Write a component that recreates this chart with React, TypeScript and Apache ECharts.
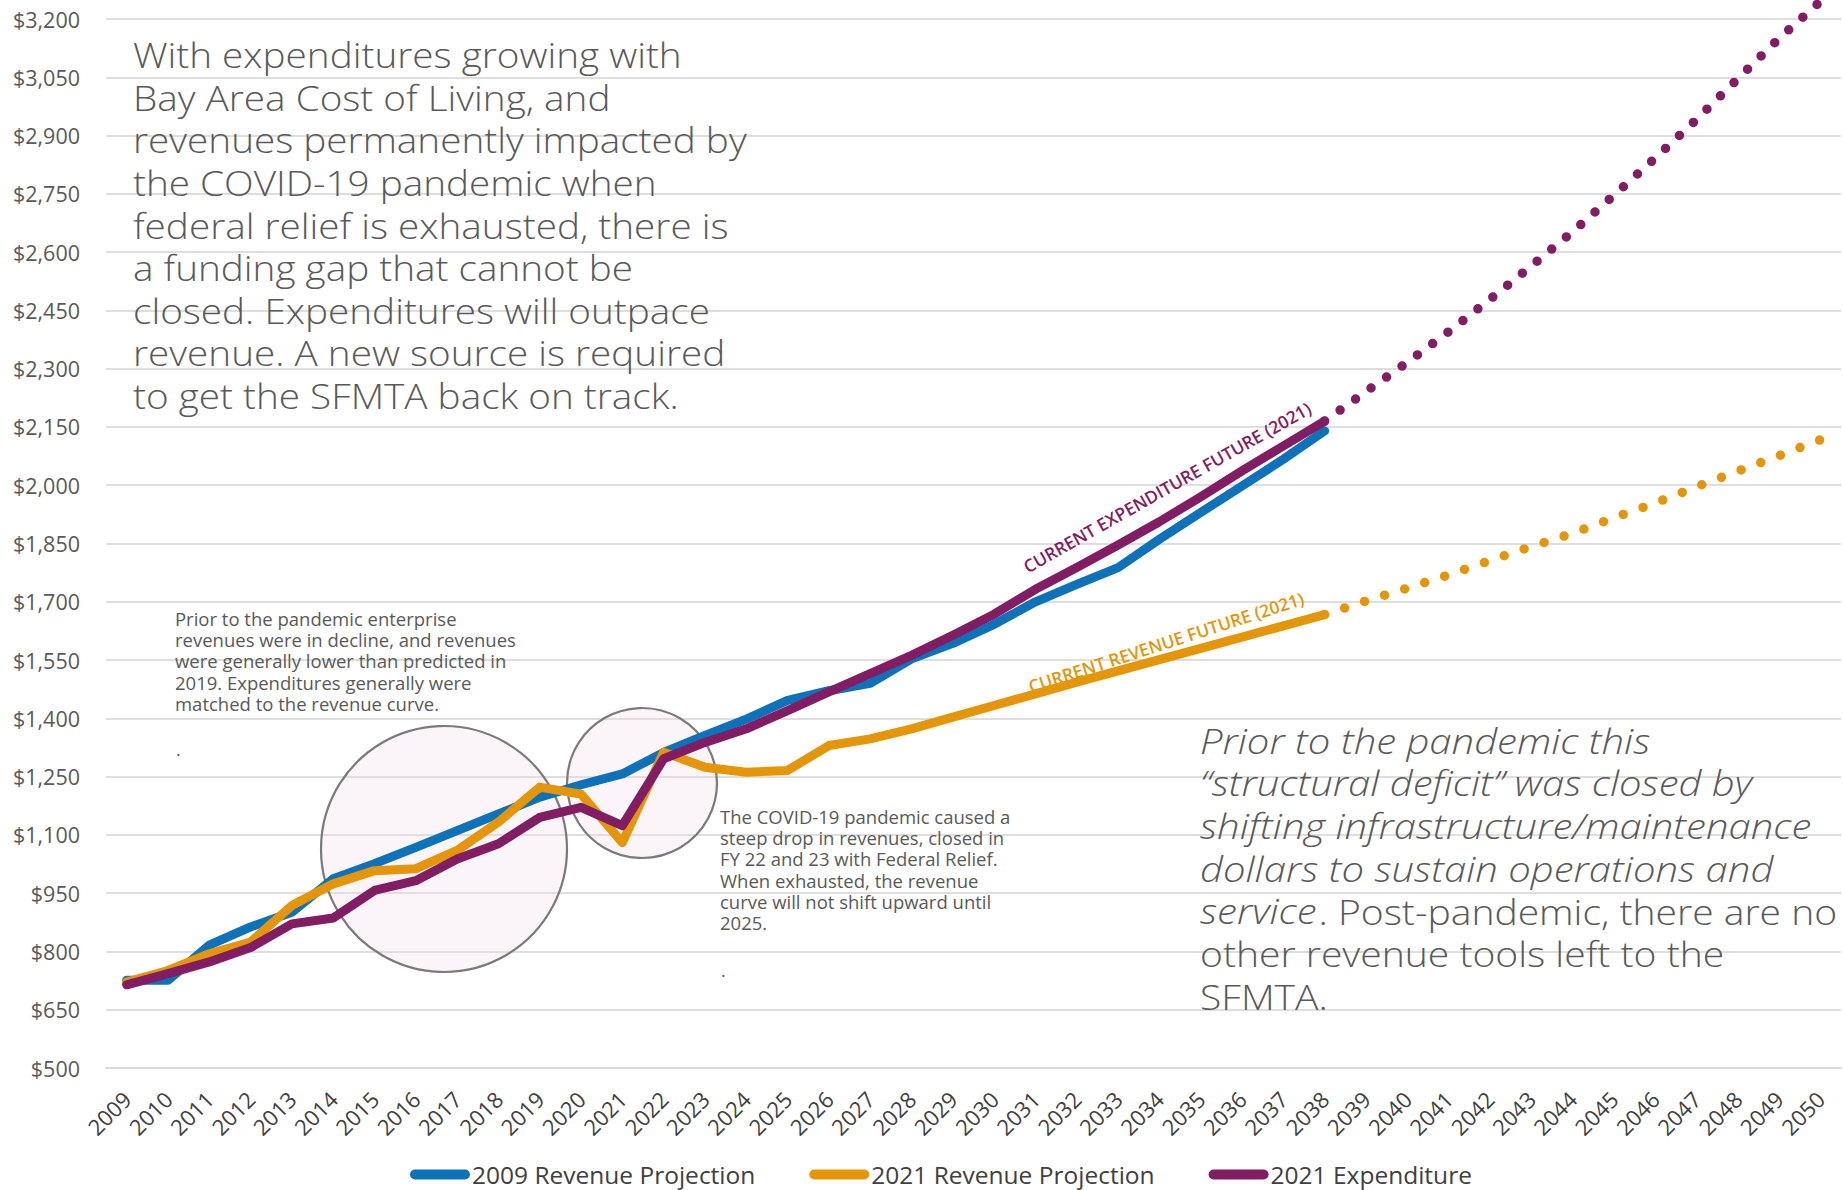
import React, { useEffect, useRef } from "react";
import * as echarts from "echarts";

const years = [
  "2009", "2010", "2011", "2012", "2013", "2014", "2015", "2016", "2017", "2018",
  "2019", "2020", "2021", "2022", "2023", "2024", "2025", "2026", "2027", "2028",
  "2029", "2030", "2031", "2032", "2033", "2034", "2035", "2036", "2037", "2038",
  "2039", "2040", "2041", "2042", "2043", "2044", "2045", "2046", "2047", "2048",
  "2049", "2050",
];

// 2009-2038 (solid lines)
const revenue2009 = [
  726, 726, 816, 863, 901, 987, 1026, 1068, 1111, 1154,
  1197, 1229, 1257, 1312, 1356, 1398, 1446, 1471, 1490, 1553,
  1593, 1642, 1700, 1745, 1788, 1861, 1930, 1998, 2067, 2140,
];
const revenue2021 = [
  721, 751, 794, 824, 918, 974, 1008, 1013, 1060, 1133,
  1223, 1205, 1080, 1313, 1274, 1261, 1266, 1330, 1347, 1373,
  1403, 1433, 1463, 1493, 1522, 1551, 1580, 1609, 1638, 1667,
];
const expenditure2021 = [
  714, 743, 773, 810, 871, 886, 957, 982, 1038, 1077,
  1145, 1171, 1124, 1296, 1338, 1373, 1420, 1468, 1515, 1562,
  1614, 1668, 1732, 1788, 1846, 1906, 1970, 2037, 2101, 2165,
];
// 2039-2050 (dotted future)
const revenue2021Future = [1702, 1735, 1769, 1806, 1842, 1876, 1916, 1954, 1996, 2036, 2076, 2117];
const expenditure2021Future = [2241, 2316, 2395, 2478, 2564, 2652, 2746, 2842, 2941, 3046, 3150, 3245];

const yMin = 500;
const yMax = 3200;
const yStep = 150;

const C_BLUE = "#0D72BA";
const C_ORANGE = "#E49608";
const C_PURPLE = "#821C63";
const TEXT = "#595959";
const FONT = "'Open Sans', 'Noto Sans', sans-serif";

const mainText = [
  "With expenditures growing with",
  "Bay Area Cost of Living, and",
  "revenues permanently impacted by",
  "the COVID-19 pandemic when",
  "federal relief is exhausted, there is",
  "a funding gap that cannot be",
  "closed. Expenditures will outpace",
  "revenue. A new source is required",
  "to get the SFMTA back on track.",
];
const noteBefore = [
  "Prior to the pandemic enterprise",
  "revenues were in decline, and revenues",
  "were generally lower than predicted in",
  "2019. Expenditures generally were",
  "matched to the revenue curve.",
];
const noteCovid = [
  "The COVID-19 pandemic caused a",
  "steep drop in revenues, closed in",
  "FY 22 and 23 with Federal Relief.",
  "When exhausted, the revenue",
  "curve will not shift upward until",
  "2025.",
];
const sideItalic = [
  "Prior to the pandemic this",
  "\u201cstructural deficit\u201d was closed by",
  "shifting infrastructure/maintenance",
  "dollars to sustain operations and",
];
const sideMixedItalic = "service";
const sideMixedRegular = ". Post-pandemic, there are no";
const sideRegular = ["other revenue tools left to the", "SFMTA."];

function futureSeries(past: number[], future: number[]) {
  const last = past.length - 1;
  return years.map((_, i) => (i < last ? null : i === last ? past[last] : future[i - last - 1]));
}

function measure(text: string, font: string) {
  const ctx = document.createElement("canvas").getContext("2d");
  if (!ctx) return text.length * 16;
  ctx.font = font;
  return ctx.measureText(text).width;
}

export default function App() {
  const ref = useRef<HTMLDivElement>(null);
  useEffect(() => {
    if (!ref.current) return;
    const chart = echarts.init(ref.current, undefined, { renderer: "svg" });
    const solid = (name: string, color: string, data: number[]) => ({
      name,
      type: "line",
      data,
      symbol: "none",
      clip: false,
      z: 3,
      lineStyle: { color, width: 9, cap: "round", join: "round" },
      itemStyle: { color },
    });
    const dotted = (name: string, color: string, data: (number | null)[], gap: number) => ({
      name,
      type: "line",
      data,
      symbol: "none",
      clip: false,
      z: 3,
      lineStyle: { color, width: 9.5, type: [0, gap], cap: "round", join: "round" },
      itemStyle: { color },
    });
    const pill = "path://M5,0 H55 A5,5 0 0 1 55,10 H5 A5,5 0 0 1 5,0 Z";

    const bigSize = 35.5;
    const sideFontItalic = `italic 300 ${bigSize}px ${FONT}`;
    const sideFontRegular = `300 ${bigSize}px ${FONT}`;
    const italicScale = 1.13;
    const regularScale = 1.1;
    const sideX = 1200;
    const sideTop = 740; // center of first line
    const sideStep = 42.7;
    const sideTexts: any[] = [];
    sideItalic.forEach((t, i) => {
      sideTexts.push({
        type: "text",
        z: 10,
        x: sideX,
        y: sideTop + i * sideStep,
        scaleX: italicScale,
        style: { text: t, font: sideFontItalic, fill: TEXT, verticalAlign: "middle" },
      });
    });
    const mixY = sideTop + 4 * sideStep;
    sideTexts.push({
      type: "text",
      z: 10,
      x: sideX,
      y: mixY,
      scaleX: italicScale,
      style: { text: sideMixedItalic, font: sideFontItalic, fill: TEXT, verticalAlign: "middle" },
    });
    sideTexts.push({
      type: "text",
      z: 10,
      x: sideX + measure(sideMixedItalic, sideFontItalic) * italicScale + 2,
      y: mixY,
      scaleX: regularScale,
      style: { text: sideMixedRegular, font: sideFontRegular, fill: TEXT, verticalAlign: "middle" },
    });
    sideRegular.forEach((t, i) => {
      sideTexts.push({
        type: "text",
        z: 10,
        x: sideX,
        y: sideTop + (5 + i) * sideStep,
        scaleX: regularScale,
        style: { text: t, font: sideFontRegular, fill: TEXT, verticalAlign: "middle" },
      });
    });

    chart.setOption({
      animation: false,
      backgroundColor: "#ffffff",
      textStyle: { fontFamily: FONT },
      grid: { left: 106, right: 2, top: 19, bottom: 122, containLabel: false },
      legend: {
        data: [
          { name: "2009 Revenue Projection", icon: pill },
          { name: "2021 Revenue Projection", icon: pill },
          { name: "2021 Expenditure", icon: pill },
        ],
        left: 405,
        top: 1157,
        itemWidth: 60,
        itemHeight: 10,
        itemGap: 54,
        textStyle: { fontSize: 24.5, color: "#404040", fontFamily: FONT, padding: [0, 0, 0, -3] },
      },
      xAxis: {
        type: "category",
        data: years,
        boundaryGap: true,
        axisLine: { show: true, lineStyle: { color: "#d9d9d9", width: 2 } },
        axisTick: { show: false },
        axisLabel: { rotate: 45, fontSize: 22, color: "#404040", margin: 27, interval: 0, fontFamily: FONT },
        splitLine: { show: false },
      },
      yAxis: {
        type: "value",
        min: yMin,
        max: yMax,
        interval: yStep,
        axisLine: { show: false },
        axisTick: { show: false },
        axisLabel: {
          fontSize: 21.5,
          color: TEXT,
          margin: 26,
          fontFamily: FONT,
          formatter: (v: number) => "$" + v.toLocaleString("en-US"),
        },
        splitLine: { lineStyle: { color: "#dedede", width: 2 } },
      },
      series: [
        solid("2009 Revenue Projection", C_BLUE, revenue2009),
        solid("2021 Revenue Projection", C_ORANGE, revenue2021),
        solid("2021 Expenditure", C_PURPLE, expenditure2021),
        dotted("2021 Revenue Future", C_ORANGE, futureSeries(revenue2021, revenue2021Future), 21),
        dotted("2021 Expenditure Future", C_PURPLE, futureSeries(expenditure2021, expenditure2021Future), 19),
      ],
      graphic: [
        {
          type: "circle",
          z: 1,
          shape: { cx: 444, cy: 849, r: 123 },
          style: { fill: "rgba(240,215,235,0.28)", stroke: "#7a7a7a", lineWidth: 2.2 },
        },
        {
          type: "circle",
          z: 1,
          shape: { cx: 642, cy: 783, r: 75 },
          style: { fill: "rgba(240,215,235,0.28)", stroke: "#7a7a7a", lineWidth: 2.2 },
        },
        {
          type: "text",
          z: 10,
          x: 133,
          y: 33,
          scaleX: 1.09,
          style: {
            text: mainText.join("\n"),
            font: `300 ${bigSize}px ${FONT}`,
            fill: TEXT,
            lineHeight: 42.6,
            verticalAlign: "top",
          },
        },
        {
          type: "text",
          z: 10,
          x: 175,
          y: 608,
          scaleX: 1.057,
          style: {
            text: noteBefore.join("\n"),
            font: `17.5px ${FONT}`,
            fill: TEXT,
            lineHeight: 21.4,
            verticalAlign: "top",
          },
        },
        {
          type: "text",
          z: 10,
          x: 176,
          y: 740,
          style: { text: ".", font: `17.5px ${FONT}`, fill: TEXT, verticalAlign: "top" },
        },
        {
          type: "text",
          z: 10,
          x: 720,
          y: 806,
          scaleX: 1.057,
          style: {
            text: noteCovid.join("\n"),
            font: `17.5px ${FONT}`,
            fill: TEXT,
            lineHeight: 21.4,
            verticalAlign: "top",
          },
        },
        {
          type: "text",
          z: 10,
          x: 721,
          y: 961,
          style: { text: ".", font: `17.5px ${FONT}`, fill: TEXT, verticalAlign: "top" },
        },
        ...sideTexts,
        {
          type: "text",
          z: 10,
          x: 1167,
          y: 487,
          rotation: (29.5 * Math.PI) / 180,
          style: {
            text: "CURRENT EXPENDITURE FUTURE (2021)",
            font: `600 17.5px ${FONT}`,
            fill: C_PURPLE,
            align: "center",
            verticalAlign: "middle",
          },
        },
        {
          type: "text",
          z: 10,
          x: 1166,
          y: 642,
          rotation: (18 * Math.PI) / 180,
          style: {
            text: "CURRENT REVENUE FUTURE (2021)",
            font: `600 17.5px ${FONT}`,
            fill: C_ORANGE,
            align: "center",
            verticalAlign: "middle",
          },
        },
      ],
    });
    return () => chart.dispose();
  }, []);
  return (
    <div
      ref={ref}
      style={{ position: "fixed", left: 0, top: 0, width: 1843, height: 1190, background: "#fff" }}
    />
  );
}
